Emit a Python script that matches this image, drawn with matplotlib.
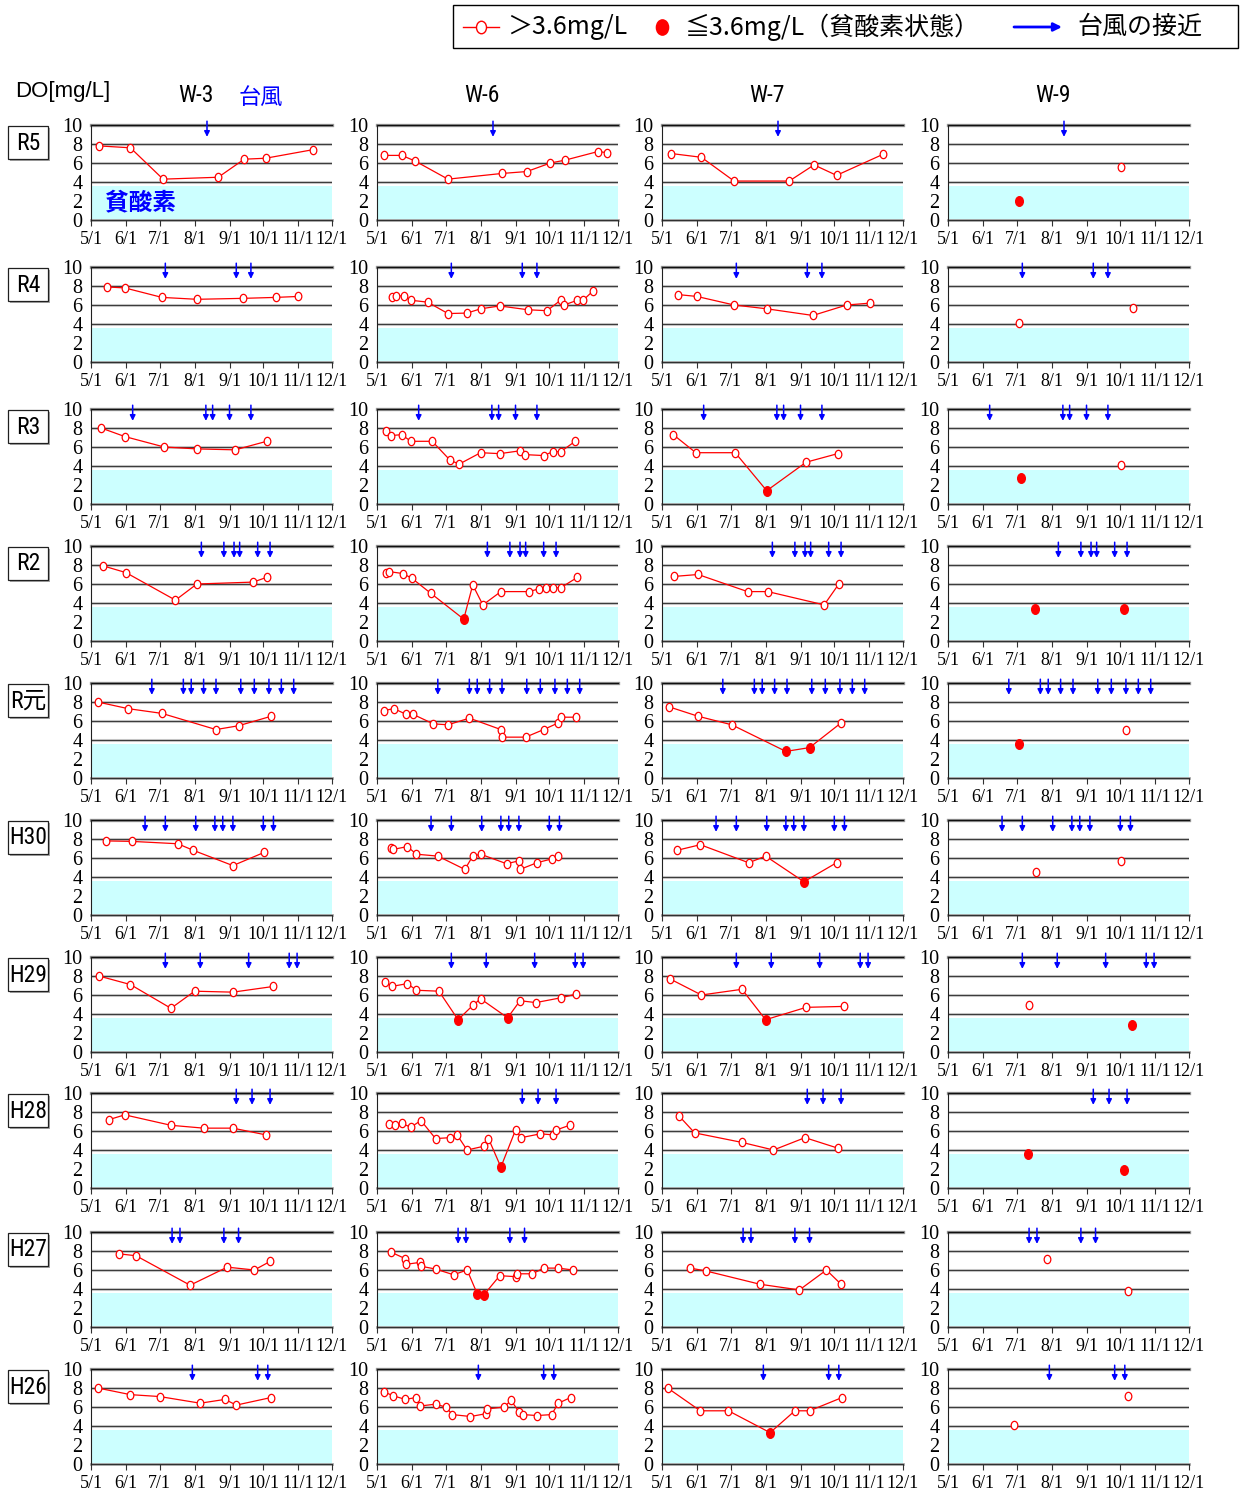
import matplotlib
matplotlib.use("Agg")
import logging
import matplotlib.pyplot as plt
from matplotlib.path import Path
from matplotlib.transforms import Affine2D
from matplotlib.patches import Rectangle

logging.getLogger("matplotlib.font_manager").setLevel(logging.ERROR)

# ---- seasons, stations, axes ----
years = ["R5", "R4", "R3", "R2", "R元", "H30", "H29", "H28", "H27", "H26"]
stations = ["W-3", "W-6", "W-7", "W-9"]
month_ticks = ["5/1", "6/1", "7/1", "8/1", "9/1", "10/1", "11/1", "12/1"]
y_ticks = [0, 2, 4, 6, 8, 10]
HYPOXIA = 3.6

# ---- typhoon approach dates ----
typhoon_r5 = ["8/12"]
typhoon_r4 = ["7/6", "9/7", "9/20"]
typhoon_r3 = ["6/7", "8/11", "8/17", "9/1", "9/20"]
typhoon_r2 = ["8/7", "8/27", "9/5", "9/10", "9/26", "10/7"]
typhoon_r1 = ["6/24", "7/22", "7/29", "8/9", "8/20", "9/11", "9/23", "10/6", "10/17", "10/28"]
typhoon_h30 = ["6/18", "7/6", "8/2", "8/19", "8/26", "9/4", "10/1", "10/10"]
typhoon_h29 = ["7/6", "8/6", "9/18", "10/24", "10/31"]
typhoon_h28 = ["9/7", "9/21", "10/7"]
typhoon_h27 = ["7/12", "7/19", "8/27", "9/9"]
typhoon_h26 = ["7/30", "9/26", "10/5"]

# ---- bottom-layer DO [mg/L] ----
r5_w3_date = ["5/8", "6/5", "7/4", "8/22", "9/14", "10/3", "11/14"]
r5_w3_do = [7.8, 7.6, 4.3, 4.5, 6.4, 6.5, 7.4]
r5_w6_date = ["5/7", "5/23", "6/4", "7/3", "8/20", "9/11", "10/2", "10/15", "11/13", "11/21"]
r5_w6_do = [6.8, 6.8, 6.2, 4.3, 4.9, 5.1, 6.0, 6.3, 7.2, 7.1]
r5_w7_date = ["5/9", "6/5", "7/4", "8/22", "9/13", "10/3", "11/13"]
r5_w7_do = [7.0, 6.6, 4.1, 4.1, 5.8, 4.7, 6.9]
r5_w9_date = ["7/3", "10/2"]
r5_w9_do = [2.0, 5.6]

r4_w3_date = ["5/15", "5/31", "7/3", "8/3", "9/13", "10/12", "11/1"]
r4_w3_do = [7.9, 7.8, 6.8, 6.6, 6.7, 6.8, 6.9]
r4_w6_date = ["5/14", "5/18", "5/25", "5/31", "6/15", "7/3", "7/20", "8/1", "8/18",
              "9/12", "9/29", "10/11", "10/14", "10/26", "10/31", "11/9"]
r4_w6_do = [6.8, 6.9, 7.0, 6.5, 6.3, 5.1, 5.15, 5.6, 5.9, 5.5, 5.4, 6.5, 6.0, 6.5, 6.5, 7.5]
r4_w7_date = ["5/15", "6/1", "7/4", "8/2", "9/12", "10/12", "11/2"]
r4_w7_do = [7.1, 6.9, 6.0, 5.6, 4.9, 6.0, 6.2]
r4_w9_date = ["7/3", "10/12"]
r4_w9_do = [4.1, 5.7]

r3_w3_date = ["5/10", "5/31", "7/5", "8/3", "9/6", "10/4"]
r3_w3_do = [8.0, 7.1, 6.0, 5.8, 5.7, 6.6]
r3_w6_date = ["5/9", "5/13", "5/23", "5/31", "6/19", "7/5", "7/13", "8/1", "8/18",
              "9/5", "9/9", "9/26", "10/4", "10/11", "10/24"]
r3_w6_do = [7.7, 7.2, 7.3, 6.6, 6.6, 4.6, 4.2, 5.4, 5.3, 5.6, 5.2, 5.1, 5.5, 5.5, 6.6]
r3_w7_date = ["5/11", "5/31", "7/5", "8/2", "9/6", "10/4"]
r3_w7_do = [7.3, 5.4, 5.4, 1.4, 4.4, 5.3]
r3_w9_date = ["7/5", "10/2"]
r3_w9_do = [2.7, 4.1]

r2_w3_date = ["5/12", "6/1", "7/15", "8/3", "9/22", "10/4"]
r2_w3_do = [7.9, 7.2, 4.3, 6.0, 6.2, 6.7]
r2_w6_date = ["5/9", "5/12", "5/24", "6/1", "6/18", "7/17", "7/25", "8/3", "8/19",
              "9/13", "9/22", "9/28", "10/4", "10/11", "10/26"]
r2_w6_do = [7.2, 7.3, 7.1, 6.6, 5.0, 2.3, 5.9, 3.8, 5.2, 5.2, 5.5, 5.6, 5.6, 5.6, 6.7]
r2_w7_date = ["5/12", "6/2", "7/16", "8/3", "9/22", "10/5"]
r2_w7_do = [6.8, 7.0, 5.2, 5.2, 3.8, 6.0]
r2_w9_date = ["7/17", "10/4"]
r2_w9_do = [3.4, 3.4]

r1_w3_date = ["5/7", "6/3", "7/3", "8/20", "9/9", "10/8"]
r1_w3_do = [8.0, 7.3, 6.8, 5.1, 5.5, 6.5]
r1_w6_date = ["5/7", "5/16", "5/27", "6/2", "6/20", "7/3", "7/22", "8/19", "8/20",
              "9/10", "9/26", "10/9", "10/11", "10/25"]
r1_w6_do = [7.1, 7.3, 6.7, 6.7, 5.7, 5.6, 6.3, 5.1, 4.3, 4.3, 5.1, 5.8, 6.4, 6.4]
r1_w7_date = ["5/7", "6/2", "7/2", "8/19", "9/9", "10/7"]
r1_w7_do = [7.5, 6.5, 5.6, 2.8, 3.2, 5.8]
r1_w9_date = ["7/3", "10/6"]
r1_w9_do = [3.6, 5.1]

h30_w3_date = ["5/14", "6/6", "7/17", "7/31", "9/4", "10/2"]
h30_w3_do = [7.8, 7.75, 7.5, 6.8, 5.2, 6.6]
h30_w6_date = ["5/13", "5/15", "5/28", "6/5", "6/24", "7/18", "7/25", "8/1", "8/24",
               "9/4", "9/5", "9/20", "10/3", "10/9"]
h30_w6_do = [7.0, 6.9, 7.2, 6.4, 6.2, 4.8, 6.2, 6.4, 5.4, 5.7, 4.8, 5.5, 5.9, 6.2]
h30_w7_date = ["5/14", "6/4", "7/17", "8/1", "9/4", "10/3"]
h30_w7_do = [6.8, 7.4, 5.5, 6.2, 3.5, 5.5]
h30_w9_date = ["7/18", "10/2"]
h30_w9_do = [4.5, 5.7]

h29_w3_date = ["5/8", "6/5", "7/11", "8/1", "9/4", "10/10"]
h29_w3_do = [8.0, 7.1, 4.6, 6.4, 6.3, 6.9]
h29_w6_date = ["5/8", "5/14", "5/28", "6/5", "6/25", "7/12", "7/25", "8/1", "8/25",
               "9/5", "9/19", "10/11", "10/25"]
h29_w6_do = [7.4, 6.9, 7.2, 6.5, 6.4, 3.4, 4.9, 5.6, 3.6, 5.4, 5.2, 5.7, 6.1]
h29_w7_date = ["5/8", "6/5", "7/11", "8/1", "9/6", "10/10"]
h29_w7_do = [7.7, 6.0, 6.6, 3.4, 4.7, 4.8]
h29_w9_date = ["7/12", "10/11"]
h29_w9_do = [5.0, 2.8]

h28_w3_date = ["5/17", "5/31", "7/11", "8/9", "9/4", "10/3"]
h28_w3_do = [7.2, 7.7, 6.6, 6.3, 6.3, 5.6]
h28_w6_date = ["5/12", "5/17", "5/23", "5/31", "6/9", "6/22", "7/5", "7/11", "7/20",
               "8/4", "8/8", "8/19", "9/1", "9/6", "9/23", "10/4", "10/7", "10/19"]
h28_w6_do = [6.7, 6.6, 6.8, 6.4, 7.1, 5.2, 5.3, 5.6, 4.0, 4.4, 5.2, 2.2, 6.1, 5.3, 5.7, 5.6, 6.1, 6.6]
h28_w7_date = ["5/16", "5/30", "7/11", "8/8", "9/5", "10/4"]
h28_w7_do = [7.6, 5.8, 4.8, 4.0, 5.3, 4.2]
h28_w9_date = ["7/11", "10/4"]
h28_w9_do = [3.6, 1.9]

h27_w3_date = ["5/26", "6/10", "7/28", "8/30", "9/23", "10/7"]
h27_w3_do = [7.7, 7.5, 4.4, 6.3, 6.0, 6.9]
h27_w6_date = ["5/13", "5/26", "5/27", "6/8", "6/9", "6/22", "7/8", "7/20", "7/29",
               "8/4", "8/18", "9/1", "9/2", "9/16", "9/26", "10/9", "10/22"]
h27_w6_do = [7.9, 7.2, 6.6, 6.8, 6.4, 6.1, 5.5, 6.0, 3.5, 3.4, 5.4, 5.3, 5.6, 5.6, 6.2, 6.2, 6.0]
h27_w7_date = ["5/26", "6/9", "7/27", "8/31", "9/24", "10/7"]
h27_w7_do = [6.2, 5.9, 4.5, 3.9, 6.0, 4.5]
h27_w9_date = ["7/28", "10/8"]
h27_w9_do = [7.2, 3.8]

h26_w3_date = ["5/7", "6/5", "7/1", "8/6", "8/28", "9/7", "10/8"]
h26_w3_do = [8.0, 7.3, 7.1, 6.4, 6.8, 6.2, 7.0]
h26_w6_date = ["5/7", "5/15", "5/26", "6/5", "6/8", "6/22", "7/1", "7/7", "7/23", "8/6",
               "8/7", "8/22", "8/28", "9/4", "9/8", "9/20", "10/3", "10/9", "10/20"]
h26_w6_do = [7.6, 7.2, 6.8, 7.0, 6.1, 6.3, 6.0, 5.2, 5.0, 5.3, 5.8, 6.0, 6.7, 5.5, 5.2, 5.1, 5.2, 6.4, 7.0]
h26_w7_date = ["5/6", "6/4", "6/29", "8/5", "8/27", "9/9", "10/8"]
h26_w7_do = [8.0, 5.6, 5.6, 3.3, 5.6, 5.6, 7.0]
h26_w9_date = ["6/29", "10/8"]
h26_w9_do = [4.1, 7.2]

# lookup tables built from the lists above
typhoons = [typhoon_r5, typhoon_r4, typhoon_r3, typhoon_r2, typhoon_r1,
            typhoon_h30, typhoon_h29, typhoon_h28, typhoon_h27, typhoon_h26]
samples = [
    [(r5_w3_date, r5_w3_do), (r5_w6_date, r5_w6_do), (r5_w7_date, r5_w7_do), (r5_w9_date, r5_w9_do)],
    [(r4_w3_date, r4_w3_do), (r4_w6_date, r4_w6_do), (r4_w7_date, r4_w7_do), (r4_w9_date, r4_w9_do)],
    [(r3_w3_date, r3_w3_do), (r3_w6_date, r3_w6_do), (r3_w7_date, r3_w7_do), (r3_w9_date, r3_w9_do)],
    [(r2_w3_date, r2_w3_do), (r2_w6_date, r2_w6_do), (r2_w7_date, r2_w7_do), (r2_w9_date, r2_w9_do)],
    [(r1_w3_date, r1_w3_do), (r1_w6_date, r1_w6_do), (r1_w7_date, r1_w7_do), (r1_w9_date, r1_w9_do)],
    [(h30_w3_date, h30_w3_do), (h30_w6_date, h30_w6_do), (h30_w7_date, h30_w7_do), (h30_w9_date, h30_w9_do)],
    [(h29_w3_date, h29_w3_do), (h29_w6_date, h29_w6_do), (h29_w7_date, h29_w7_do), (h29_w9_date, h29_w9_do)],
    [(h28_w3_date, h28_w3_do), (h28_w6_date, h28_w6_do), (h28_w7_date, h28_w7_do), (h28_w9_date, h28_w9_do)],
    [(h27_w3_date, h27_w3_do), (h27_w6_date, h27_w6_do), (h27_w7_date, h27_w7_do), (h27_w9_date, h27_w9_do)],
    [(h26_w3_date, h26_w3_do), (h26_w6_date, h26_w6_do), (h26_w7_date, h26_w7_do), (h26_w9_date, h26_w9_do)],
]
connected = [True, True, True, False]

MONTH_START = {5: 0, 6: 31, 7: 61, 8: 92, 9: 123, 10: 153, 11: 184, 12: 214}


def to_day(s):
    m, d = s.split("/")
    return MONTH_START[int(m)] + int(d) - 1


# ---- styling ----
RED = "#ff0000"
BLUE = "#0000ff"
CYAN = "#ccffff"
SERIF = ["Liberation Serif", "DejaVu Serif"]
NARROW = ["Roboto Condensed", "Noto Sans Condensed", "Liberation Sans Narrow",
          "DejaVu Sans", "Noto Sans CJK JP"]
SANS = ["Liberation Sans", "DejaVu Sans"]
JP = ["Noto Sans CJK JP", "DejaVu Sans"]
OVAL = Path.unit_circle().transformed(Affine2D().scale(0.8, 1.0))

W, H = 1240, 1490
fig = plt.figure(figsize=(W / 100, H / 100), dpi=100)

# overlay in pixel coordinates for the headings, row labels and legend
ov = fig.add_axes([0, 0, 1, 1])
ov.set_xlim(0, W)
ov.set_ylim(H, 0)
ov.set_axis_off()
ov.patch.set_visible(False)

col_left = [91, 377, 662, 948]
row_top = [125, 267, 409, 546, 683, 820, 957, 1093, 1232, 1369]
ax_w, ax_h = 241, 95
month_pos = [to_day(m) for m in month_ticks]

for i, yr in enumerate(years):
    # row label box with a soft shadow
    top = row_top[i]
    ov.add_patch(Rectangle((9.5, top + 2.5), 40, 33, fc="#a8a8a8", ec="none"))
    ov.add_patch(Rectangle((8, top + 1), 40, 33, fc="white", ec="#202020", lw=0.9))
    ov.text(28, top + 18, yr, ha="center", va="center", fontsize=17,
            family=NARROW, fontstretch="condensed")

    for j, st in enumerate(stations):
        ax = fig.add_axes([col_left[j] / W, 1 - (top + ax_h) / H, ax_w / W, ax_h / H])
        ax.set_xlim(0, 214)
        ax.set_ylim(0, 10)
        ax.axhspan(0, HYPOXIA, fc=CYAN, lw=0, zorder=0)
        for g in (4, 6, 8):
            ax.axhline(g, color="#c4c4c4", lw=2.2, zorder=1)
            ax.axhline(g, color="#383838", lw=0.7, zorder=1)
        ax.axhline(10, color="#a0a0a0", lw=2.4, zorder=1, clip_on=False)
        ax.axhline(10, color="#101010", lw=1.0, zorder=1, clip_on=False)
        ax.axhline(0, color="#a8a8a8", lw=2.0, zorder=1, clip_on=False)
        ax.axhline(0, color="#303030", lw=0.8, zorder=1, clip_on=False)
        for side in ("top", "right", "bottom"):
            ax.spines[side].set_visible(False)
        ax.spines["left"].set_color("#202020")
        ax.spines["left"].set_linewidth(0.8)

        ax.set_xticks(month_pos)
        ax.set_xticklabels(month_ticks, family=SERIF, fontsize=13)
        ax.set_yticks(y_ticks)
        ax.set_yticklabels([str(v) for v in y_ticks], family=SERIF, fontsize=14.5)
        ax.tick_params(axis="x", length=4, width=0.8, color="#303030", pad=4)
        ax.tick_params(axis="y", length=0, pad=6)

        dates, vals = samples[i][j]
        days = [to_day(d) for d in dates]
        if connected[j]:
            ax.plot(days, vals, color=RED, lw=0.9, zorder=3)
        ok = [(d, v) for d, v in zip(days, vals) if v > HYPOXIA]
        low = [(d, v) for d, v in zip(days, vals) if v <= HYPOXIA]
        if ok:
            ax.plot([p[0] for p in ok], [p[1] for p in ok], ls="none", marker=OVAL,
                    ms=6.0, mfc="white", mec=RED, mew=0.9, zorder=4, clip_on=False)
        if low:
            ax.plot([p[0] for p in low], [p[1] for p in low], ls="none", marker=OVAL,
                    ms=7.0, mfc=RED, mec=RED, mew=0.9, zorder=4, clip_on=False)

        for t in typhoons[i]:
            x = to_day(t)
            ax.annotate("", xy=(x, 8.75), xytext=(x, 10.4),
                        arrowprops=dict(arrowstyle="-|>", color=BLUE, lw=1.1,
                                        mutation_scale=8, shrinkA=0, shrinkB=0),
                        annotation_clip=False, zorder=5)

        if i == 0 and j == 0:
            ax.text(0.06, 0.19, "貧酸素", transform=ax.transAxes, color=BLUE,
                    fontsize=17, fontweight="bold", family=JP, va="center", zorder=6)

# column headings
for j, st in enumerate(stations):
    ov.text(col_left[j] + ax_w / 2 - 16, 96, st, ha="center", va="center",
            fontsize=17, family=NARROW, fontstretch="condensed")
ov.text(15, 91, "DO[mg/L]", ha="left", va="center", fontsize=16, family=SANS)
ov.text(261, 97, "台風", ha="center", va="center", fontsize=16, color=BLUE, family=JP)

# legend
ov.add_patch(Rectangle((453, 5), 785, 43, fc="white", ec="black", lw=1.0))
ly = 27
ov.plot([463, 499], [ly, ly], color=RED, lw=1.0)
ov.plot([481], [ly], ls="none", marker=OVAL, ms=9, mfc="white", mec=RED, mew=1.0)
ov.text(507, ly, "＞3.6mg/L", ha="left", va="center", fontsize=18, family=JP)
ov.plot([662], [ly], ls="none", marker=OVAL, ms=11, mfc=RED, mec=RED)
ov.text(684, ly, "≦3.6mg/L（貧酸素状態）", ha="left", va="center", fontsize=18, family=JP)
ov.annotate("", xy=(1062, ly), xytext=(1014, ly),
            arrowprops=dict(arrowstyle="-|>", color=BLUE, lw=2.0, mutation_scale=12,
                            shrinkA=0, shrinkB=0))
ov.text(1077, ly, "台風の接近", ha="left", va="center", fontsize=18, family=JP)

fig.savefig("out.png", dpi=100)
